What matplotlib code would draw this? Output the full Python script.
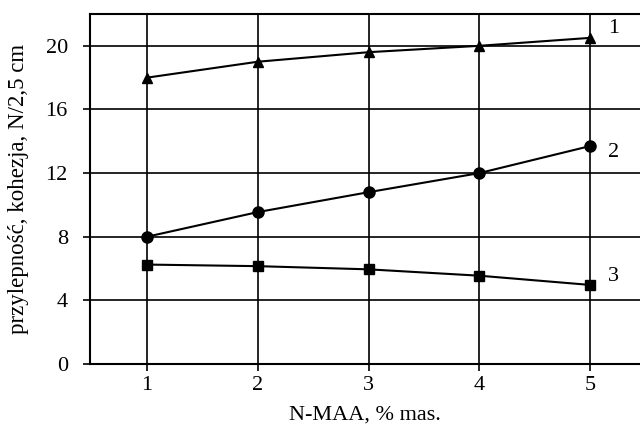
import matplotlib
matplotlib.use('Agg')
import matplotlib.pyplot as plt

plt.rcParams['font.family'] = ['Liberation Serif', 'DejaVu Serif']

x = [1, 2, 3, 4, 5]
curve1 = [18.0, 19.0, 19.6, 20.0, 20.5]
curve2 = [8.0, 9.55, 10.8, 12.0, 13.7]
curve3 = [6.25, 6.15, 5.95, 5.55, 4.97]
curve_names = ['1', '2', '3']

fig = plt.figure(figsize=(6.4, 4.25), dpi=100)
ax = fig.add_axes([90 / 640, 1 - 364 / 425, 550 / 640, 350 / 425])

ax.plot(x, curve1, color='black', lw=1.5, marker='^', ms=6.5, clip_on=False)
ax.plot(x, curve2, color='black', lw=1.5, marker='o', ms=8, clip_on=False)
ax.plot(x, curve3, color='black', lw=1.5, marker='s', ms=6.5, clip_on=False)

# curve numbers beside the last points
label_shift = [0.6, -0.4, 0.5]
for name, vals, dy in zip(curve_names, [curve1, curve2, curve3], label_shift):
    ax.text(5.21, vals[-1] + dy, name, fontsize=16, ha='center', va='center')

ax.set_xlim(0.485, 5.45)
ax.set_ylim(0, 22)
ax.set_xticks(x)
ax.set_yticks([0, 4, 8, 12, 16, 20])
ax.grid(True, color='black', lw=1.2)
ax.tick_params(direction='out', length=5, width=1.2, labelsize=16, colors='black')
ax.tick_params(axis='y', pad=11)
ax.tick_params(axis='x', pad=4)

for side in ['left', 'bottom', 'top']:
    ax.spines[side].set_linewidth(1.5)
ax.spines['right'].set_visible(False)

ax.set_xlabel('N-MAA, % mas.', fontsize=16, labelpad=7)
ax.set_ylabel('przylepność, kohezja, N/2,5 cm', fontsize=16.5, labelpad=12)

fig.savefig('out.png', dpi=100)
